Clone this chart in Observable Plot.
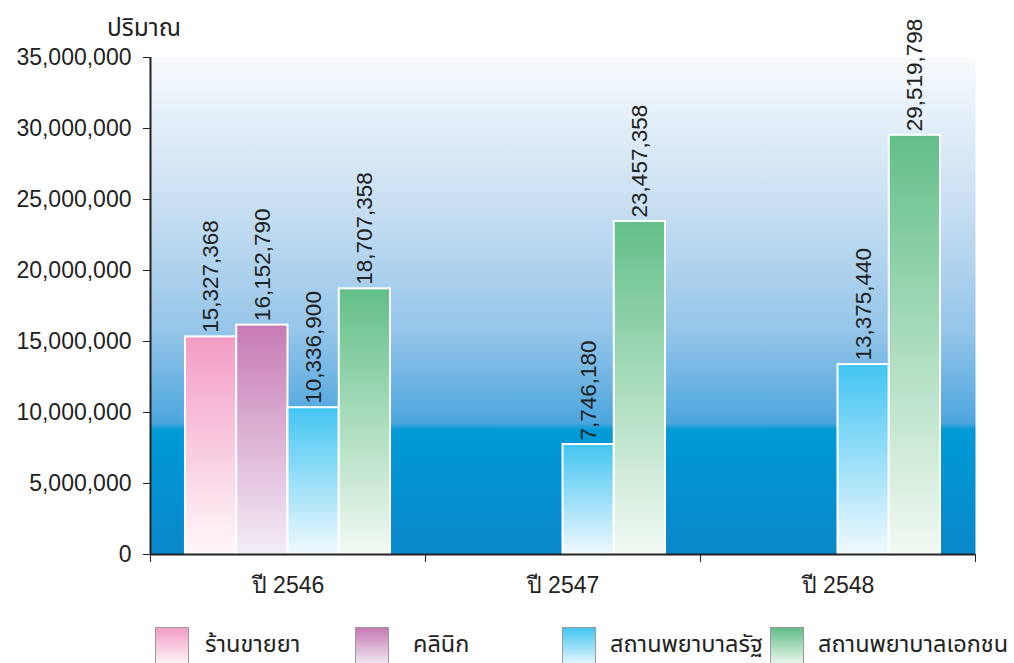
<!DOCTYPE html>
<html>
<head>
<meta charset="utf-8">
<script src="https://cdn.jsdelivr.net/npm/d3@7"></script>
<script src="https://cdn.jsdelivr.net/npm/@observablehq/plot@0.6"></script>
<style>
  body { margin: 0; background: #fff; }
  #wrap { position: relative; width: 1014px; height: 663px; overflow: hidden;
          font-family: "Liberation Sans", "Noto Sans", "Noto Sans Thai", sans-serif; color: #222; }
  #title { position: absolute; left: 107px; top: 10px; font-size: 24.5px; }
  #chart { position: absolute; left: 0; top: 40px; }
  .sw { position: absolute; top: 627px; width: 34px; height: 40px; border: 1px solid #9a9a9a; box-sizing: border-box; }
  .lt { position: absolute; top: 629px; font-size: 23.5px; line-height: 30px; white-space: nowrap; }
</style>
</head>
<body>
<div id="wrap">
  <div id="title">ปริมาณ</div>
  <div id="chart"></div>
  <div id="legend"></div>
</div>
<script>
// ---- data ----
const years = ["ปี 2546", "ปี 2547", "ปี 2548"];
const series = ["ร้านขายยา", "คลินิก", "สถานพยาบาลรัฐ", "สถานพยาบาลเอกชน"];
const pharmacy = [15327368, null, null];
const clinic = [16152790, null, null];
const stateHosp = [10336900, 7746180, 13375440];
const privateHosp = [18707358, 23457358, 29519798];
const yTicks = [0, 5000000, 10000000, 15000000, 20000000, 25000000, 30000000, 35000000];

// ---- styles ----
const topColors = ["#f39cc4", "#c77ab4", "#42c5f2", "#62bf88"];
const botColors = ["#fff8fb", "#f3edf6", "#f0f9fe", "#f2f9f3"];

const valueSets = [pharmacy, clinic, stateHosp, privateHosp];
const rows = [];
valueSets.forEach((vals, si) => vals.forEach((v, yi) => {
  if (v != null) rows.push({year: years[yi], yi, series: series[si], si, value: v});
}));

const pad = 0.1272, bw = 0.1864; // band layout within each year group (data units)
const fmt = d3.format(",");

const plot = Plot.plot({
  width: 1014,
  height: 575,
  marginTop: 17,
  marginBottom: 61,
  marginLeft: 150,
  marginRight: 39,
  style: {fontSize: "23px", fontFamily: "'Liberation Sans', 'Noto Sans', sans-serif", color: "#222", background: "transparent", overflow: "visible"},
  x: {domain: [0, years.length], ticks: d3.range(0, years.length + 1), tickFormat: () => "", tickSize: 8, label: null},
  y: {domain: [0, 35000000], ticks: yTicks, tickFormat: fmt, tickSize: 7, tickPadding: 12, label: null},
  color: {domain: series, range: series.map((s, i) => `url(#g${i})`)},
  marks: [
    Plot.frame({fill: "url(#bgGrad)", stroke: null}),
    Plot.rectY(rows, {
      x1: d => d.yi + pad + d.si * bw,
      x2: d => d.yi + pad + (d.si + 1) * bw,
      y: "value",
      fill: "series",
      stroke: "white",
      strokeWidth: 2
    }),
    Plot.text(rows, {
      x: d => d.yi + pad + (d.si + 0.5) * bw,
      y: "value",
      text: d => fmt(d.value),
      rotate: -90,
      textAnchor: "start",
      dy: -4,
      fontSize: 22.5,
      fill: "#222"
    }),
    Plot.text(years, {x: (d, i) => i + 0.5, y: () => 0, text: d => d, dy: 31, fontSize: 23, fill: "#222"}),
    Plot.ruleX([0], {stroke: "#222", strokeWidth: 2}),
    Plot.ruleY([0], {stroke: "#222", strokeWidth: 2})
  ]
});

// gradients
const ns = "http://www.w3.org/2000/svg";
const defs = document.createElementNS(ns, "defs");
let html = `<linearGradient id="bgGrad" x1="0" y1="0" x2="0" y2="1">
  <stop offset="0" stop-color="#f7fafd"/>
  <stop offset="0.3" stop-color="#c8dff2"/>
  <stop offset="0.55" stop-color="#95c5e9"/>
  <stop offset="0.735" stop-color="#4ca6de"/>
  <stop offset="0.75" stop-color="#009ad7"/>
  <stop offset="1" stop-color="#0a87cb"/>
</linearGradient>`;
series.forEach((s, i) => {
  html += `<linearGradient id="g${i}" x1="0" y1="0" x2="0" y2="1">
    <stop offset="0" stop-color="${topColors[i]}"/>
    <stop offset="1" stop-color="${botColors[i]}"/>
  </linearGradient>`;
});
defs.innerHTML = html;
plot.insertBefore(defs, plot.firstChild);
document.getElementById("chart").appendChild(plot);

// legend
const swLeft = [155, 355, 562, 770];
const txLeft = [205, 413, 610, 818];
const legend = document.getElementById("legend");
series.forEach((s, i) => {
  const sw = document.createElement("div");
  sw.className = "sw";
  sw.style.left = swLeft[i] + "px";
  sw.style.background = `linear-gradient(to bottom, ${topColors[i]}, ${botColors[i]})`;
  legend.appendChild(sw);
  const t = document.createElement("div");
  t.className = "lt";
  t.style.left = txLeft[i] + "px";
  t.textContent = s;
  legend.appendChild(t);
});
</script>
</body>
</html>
